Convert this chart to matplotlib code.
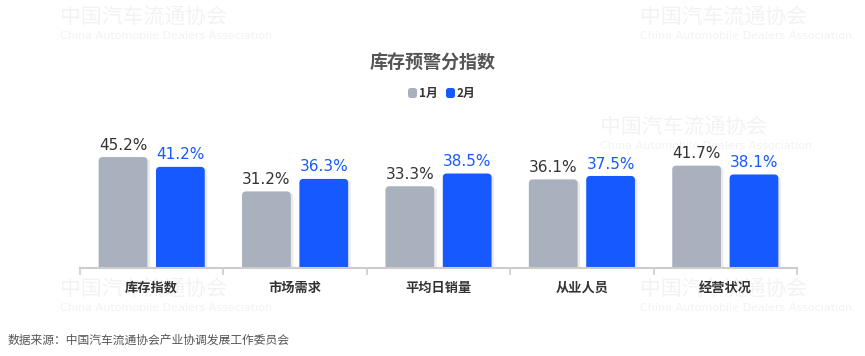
import matplotlib
matplotlib.use("Agg")
import matplotlib.pyplot as plt
from matplotlib.patches import FancyBboxPatch
import numpy as np

plt.rcParams['font.family'] = ['Noto Sans CJK SC', 'DejaVu Sans']

categories = ["库存指数", "市场需求", "平均日销量", "从业人员", "经营状况"]
jan = [45.2, 31.2, 33.3, 36.1, 41.7]
feb = [41.2, 36.3, 38.5, 37.5, 38.1]
series_names = ["1月", "2月"]
title = "库存预警分指数"
source = "数据来源：中国汽车流通协会产业协调发展工作委员会"

gray = "#a8b1bd"
blue = "#1659ff"

fig = plt.figure(figsize=(8.65, 3.56), dpi=100)
ax = fig.add_axes([80/865, 88/356, 717/865, 135/356])

x = np.arange(len(categories))
w = 0.34
off = 0.2
ymax = 55
ax.set_xlim(-0.5, len(categories) - 0.5)
ax.set_ylim(0, ymax)

px_x = 717 / len(categories)  # px per x unit
px_y = 135 / ymax              # px per y unit
r_px = 4
rx = r_px / px_x
ry = r_px / px_y

def rounded_bars(xs, vals, color, lblcolor):
    bars = ax.bar(xs, vals, width=w, color=color, alpha=0)
    for b, v in zip(bars, vals):
        bx, by = b.get_x(), b.get_y()
        bw, bh = b.get_width(), b.get_height()
        sh = FancyBboxPatch((bx + 2.5/px_x, -ry - 1.5/px_y), bw, bh + ry,
                            boxstyle=f"round,pad=0,rounding_size={rx}",
                            mutation_aspect=ry/rx, facecolor="#000000",
                            alpha=0.08, edgecolor="none", zorder=1.5)
        ax.add_patch(sh)
        p = FancyBboxPatch((bx, -ry), bw, bh + ry,
                           boxstyle=f"round,pad=0,rounding_size={rx}",
                           mutation_aspect=ry/rx, facecolor=color,
                           edgecolor="none", zorder=2)
        ax.add_patch(p)
        ax.text(bx + bw/2, bh + 1.8, f"{v:.1f}%", ha="center", va="bottom",
                fontsize=11, color=lblcolor, family=['DejaVu Sans'], zorder=3)

rounded_bars(x - off, jan, gray, "#333333")
rounded_bars(x + off, feb, blue, blue)

for s in ["top", "right", "left"]:
    ax.spines[s].set_visible(False)
ax.spines["bottom"].set_color("#cccccc")
ax.spines["bottom"].set_linewidth(1.5)
ax.set_yticks([])
ax.set_xticks(np.arange(-0.5, len(categories)), minor=False)
ax.set_xticklabels([])
ax.tick_params(axis="x", length=5, color="#cccccc", width=1.2)
for i, c in enumerate(categories):
    ax.text(i, -20/px_y, c, ha="center", va="center", fontsize=9.5,
            fontweight="bold", color="#333333")

fig.text(0.5, 1 - 63/356, title, ha="center", va="center", fontsize=13,
         fontweight="bold", color="#555555")

# legend
lx = [408, 446]
for xx, nm, col in zip(lx, series_names, [gray, blue]):
    sq = FancyBboxPatch(((xx)/865, 1 - 98/356), 9/865, 10/356,
                        boxstyle="round,pad=0,rounding_size=0.003",
                        transform=fig.transFigure, facecolor=col,
                        edgecolor="none", mutation_aspect=865/356)
    fig.patches.append(sq)
    fig.text((xx + 11)/865, 1 - 93/356, nm, ha="left", va="center",
             fontsize=8.5, fontweight="bold", color="#333333")

fig.text(8/865, 1 - 340/356, source, ha="left", va="center", fontsize=8.5,
         color="#555555")

# watermarks
wm = [(60, 18), (640, 18), (600, 128), (60, 290), (640, 290)]
for (wx, wy) in wm:
    fig.text(wx/865, 1 - wy/356, "中国汽车流通协会", ha="left", va="center",
             fontsize=15, color="#000000", alpha=0.05, zorder=0)
    fig.text(wx/865, 1 - (wy + 18)/356, "China Automobile Dealers Association",
             ha="left", va="center", fontsize=8, color="#000000", alpha=0.05,
             family=['DejaVu Sans'], zorder=0)

fig.savefig("out.png", dpi=100, facecolor="white")
